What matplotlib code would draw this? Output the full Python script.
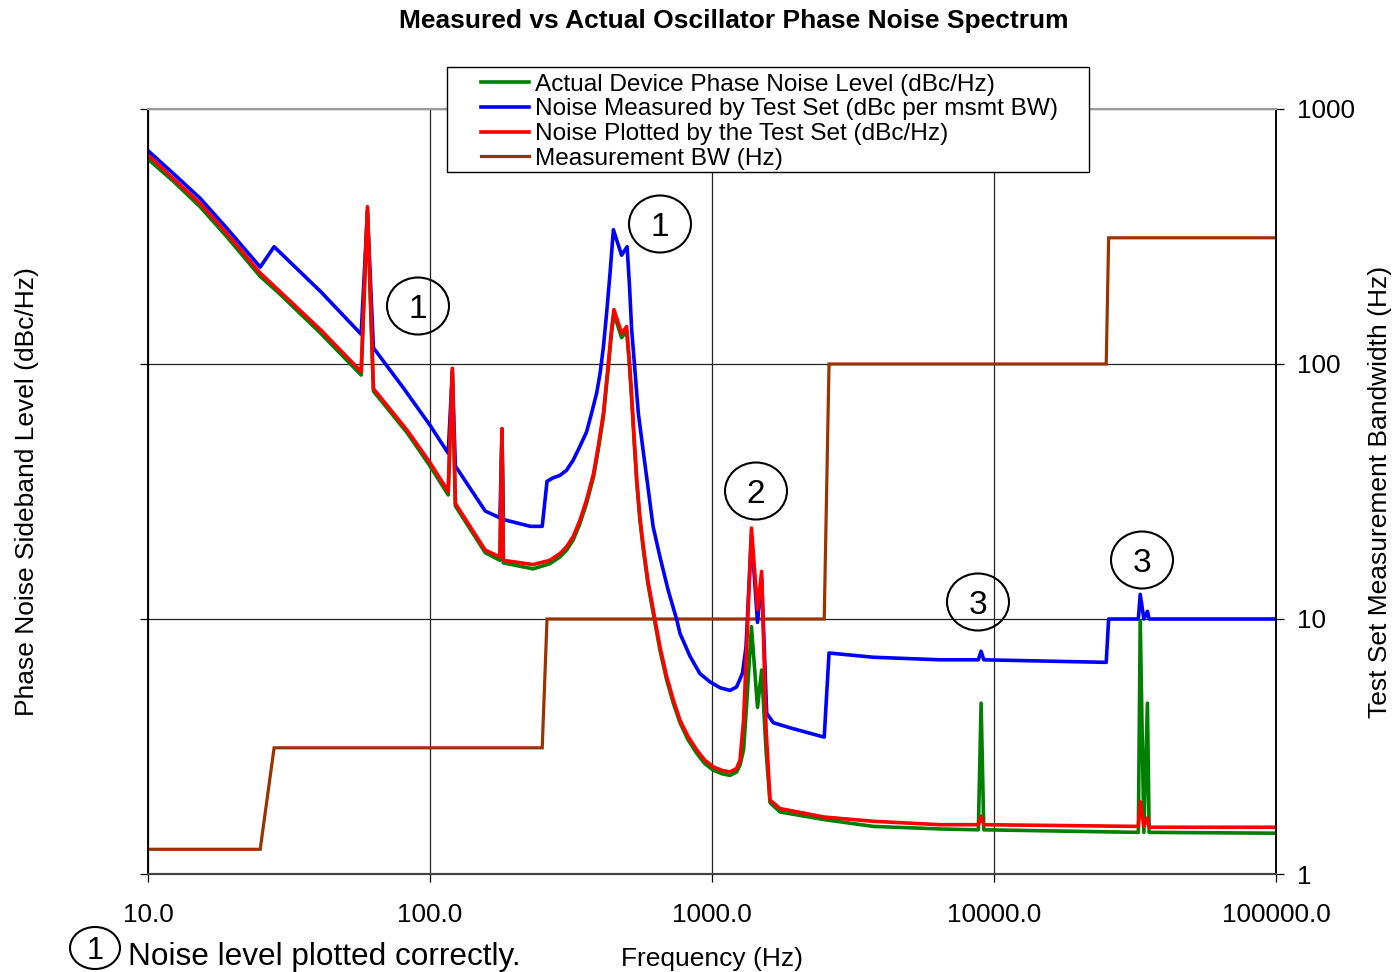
import matplotlib
matplotlib.use("Agg")
import matplotlib.pyplot as plt
from matplotlib.patches import Ellipse, Rectangle
from matplotlib.ticker import FixedLocator, FixedFormatter, NullLocator

plt.rcParams['font.family'] = ['Liberation Sans', 'DejaVu Sans']

# ---------------- data ----------------
# offset frequency (Hz) shared by the actual and plotted phase-noise traces
freq_pn = [10, 12.3, 15.3, 19, 25, 29, 41, 57, 60, 63,
           83, 100, 116, 120, 123, 157, 177, 180, 182, 232,
           266, 289, 305, 322, 340, 359, 380, 395, 412, 429,
           440, 449, 478, 498, 510, 519, 530, 541, 555, 571,
           592, 628, 654, 691, 729, 770, 822, 883, 942, 1011,
           1084, 1158, 1222, 1257, 1294, 1327, 1380, 1450, 1500, 1554,
           1606, 1742, 2500, 3733, 6435, 8800, 9000, 9200, 32500, 33000,
           34000, 35000, 35500, 100000]
# Noise Plotted by the Test Set (dBc/Hz)
plotted_dbc = [-45.4, -48.2, -51.1, -54.6, -59.3, -61.3, -66.0, -70.9, -51.5, -72.9,
               -77.8, -81.6, -85.0, -70.5, -86.4, -91.9, -92.7, -77.6, -93.1, -93.6,
               -93.1, -92.3, -91.5, -90.3, -88.4, -86.0, -82.9, -79.7, -75.8, -69.9,
               -66.0, -63.6, -66.4, -65.6, -69.9, -73.8, -78.9, -83.6, -88.0, -91.5,
               -95.4, -100.1, -103.3, -106.8, -109.5, -111.9, -113.8, -115.4, -116.6, -117.4,
               -117.8, -118.0, -117.6, -116.6, -111.9, -103.3, -89.3, -98.9, -94.4, -112.7,
               -121.3, -122.3, -123.3, -123.8, -124.2, -124.2, -123.2, -124.2, -124.4, -121.5,
               -124.4, -123.4, -124.5, -124.5]
# Actual Device Phase Noise Level (dBc/Hz)
actual_dbc = [-45.9, -48.5, -51.5, -55.0, -59.7, -61.6, -66.4, -71.3, -51.9, -73.2,
              -78.1, -82.0, -85.4, -70.8, -86.7, -92.2, -93.1, -77.9, -93.4, -94.1,
              -93.5, -92.7, -91.9, -90.7, -88.8, -86.4, -83.3, -80.1, -76.2, -70.4,
              -66.5, -64.1, -66.9, -66.1, -70.3, -74.2, -79.3, -84.0, -88.4, -91.9,
              -95.8, -100.5, -103.7, -107.2, -109.9, -112.2, -114.2, -115.8, -117.0, -117.8,
              -118.2, -118.4, -118.0, -117.2, -115.4, -110.1, -100.9, -110.4, -106.0, -115.4,
              -121.6, -122.7, -123.6, -124.4, -124.7, -124.8, -109.9, -124.8, -125.1, -100.2,
              -125.1, -109.9, -125.1, -125.2]

# Noise Measured by Test Set (dBc per msmt BW)
freq_measured = [10, 12.3, 15.3, 19, 25, 28, 41, 57, 60, 63,
                 80, 100, 116, 120, 123, 157, 177, 180, 182, 227,
                 250, 260, 273, 289, 305, 322, 340, 359, 374, 390,
                 401, 412, 423, 435, 447, 478, 500, 510, 519, 534,
                 548, 571, 587, 618, 654, 699, 750, 770, 836, 905,
                 984, 1070, 1158, 1222, 1282, 1320, 1380, 1450, 1500, 1563,
                 1650, 1891, 2500, 2600, 3733, 6435, 8800, 9000, 9200, 25000,
                 25500, 32500, 33000, 34000, 35000, 35500, 100000]
measured_dbc = [-44.9, -47.6, -50.5, -54.0, -58.6, -56.2, -61.5, -66.5, -52.1, -68.1,
                -72.7, -77.2, -80.5, -70.9, -82.0, -87.3, -88.1, -78.0, -88.3, -89.1,
                -89.1, -83.8, -83.4, -83.1, -82.5, -81.3, -79.7, -78.0, -75.8, -73.4,
                -71.1, -68.0, -64.0, -59.3, -54.2, -57.2, -56.2, -60.9, -66.0, -71.1,
                -75.8, -80.4, -83.4, -89.1, -92.7, -96.6, -100.1, -101.7, -104.4, -106.4,
                -107.4, -108.1, -108.4, -108.0, -106.4, -103.3, -90.1, -100.4, -95.2, -111.1,
                -112.2, -112.8, -113.9, -104.0, -104.5, -104.8, -104.8, -103.8, -104.8, -105.1,
                -100.0, -100.0, -97.1, -100.0, -99.1, -100.0, -100.0]

# Measurement BW (Hz)
bw_freq = [10, 25, 28, 250, 260, 2500, 2600, 25000, 25500, 100000]
bw_hz = [1.25, 1.25, 3.125, 3.125, 10, 10, 100, 100, 312.5, 312.5]

x_ticks = [10, 100, 1000, 10000, 100000]
x_tick_labels = ["10.0", "100.0", "1000.0", "10000.0", "100000.0"]
bw_ticks = [1, 10, 100, 1000]
bw_tick_labels = ["1", "10", "100", "1000"]
pn_ticks = [-130, -100, -70, -40]

legend_labels = ["Actual Device Phase Noise Level (dBc/Hz)",
                 "Noise Measured by Test Set (dBc per msmt BW)",
                 "Noise Plotted by the Test Set (dBc/Hz)",
                 "Measurement BW (Hz)"]
circle_labels = ["1", "1", "2", "3", "3"]

# ---------------- layout ----------------
W, H = 1399, 972
L, R, T, B = 148, 1276, 109, 874


def fx(x):
    return x / W


def fy(y):
    return 1 - y / H


circle_pos = [(418, 306), (660, 224), (756, 491), (978, 602), (1142, 560)]

fig = plt.figure(figsize=(W / 100, H / 100), dpi=100)
ax = fig.add_axes([fx(L), fy(B), (R - L) / W, (B - T) / H])
ax2 = ax.twinx()

# BW axis (right)
ax.set_xscale('log')
ax.set_yscale('log')
ax.set_xlim(10, 100000)
ax.set_ylim(1, 1000)
ax.yaxis.tick_right()
ax.yaxis.set_label_position('right')
ln_bw, = ax.plot(bw_freq, bw_hz, color='#993300', lw=2.3, zorder=3,
                 solid_joinstyle='miter')

ax.xaxis.set_major_locator(FixedLocator(x_ticks))
ax.xaxis.set_major_formatter(FixedFormatter(x_tick_labels))
ax.xaxis.set_minor_locator(NullLocator())
ax.yaxis.set_major_locator(FixedLocator(bw_ticks))
ax.yaxis.set_major_formatter(FixedFormatter(bw_tick_labels))
ax.yaxis.set_minor_locator(NullLocator())
ax.grid(True, which='major', color='#222222', lw=0.9)
ax.tick_params(axis='x', direction='out', length=5.8, width=0.9, labelsize=18.8,
               pad=14.9, colors='black')
ax.tick_params(axis='y', direction='out', length=5.8, width=0.9, labelsize=18.8,
               pad=9.4, right=True, left=False, labelright=True, labelleft=False)

# phase-noise axis (left, no labels)
ax2.yaxis.tick_left()
ax2.yaxis.set_label_position('left')
ax2.set_ylim(-130, -40)
ax2.set_yticks(pn_ticks)
ax2.set_yticklabels([])
ax2.tick_params(axis='y', direction='out', length=5.8, width=0.9, left=True,
                right=False, labelleft=False)

ln_meas, = ax2.plot(freq_measured, measured_dbc, color='#0000FF', lw=2.6, zorder=2)
ln_act, = ax2.plot(freq_pn, actual_dbc, color='#008000', lw=2.6, zorder=2.1)
ln_plot, = ax2.plot(freq_pn, plotted_dbc, color='#FF0000', lw=2.6, zorder=2.2)

for a in (ax, ax2):
    for name, s in a.spines.items():
        s.set_color('black')
        s.set_linewidth(1.1)
    a.spines['top'].set_color('#9a9a9a')
    a.spines['top'].set_linewidth(1.5)
    a.spines['bottom'].set_color('#444444')
    a.spines['bottom'].set_linewidth(1.5)

# labels
ax.set_xlabel("Frequency (Hz)", fontsize=19)
ax.xaxis.set_label_coords(0.5, -(959 - B) / (B - T))
ax.xaxis.label.set_va('center')
ax.set_ylabel("Test Set Measurement Bandwidth (Hz)", fontsize=19, rotation=90)
ax.yaxis.set_label_coords((1380 - L) / (R - L), 0.5)
ax.yaxis.label.set_va('center')
ax2.set_ylabel("Phase Noise Sideband Level (dBc/Hz)", fontsize=19)
ax2.yaxis.set_label_coords((27 - L) / (R - L), 0.5)
ax2.yaxis.label.set_va('center')

ax.set_title("Measured vs Actual Oscillator Phase Noise Spectrum", fontsize=19,
             fontweight='bold', x=(734 - L) / (R - L), y=1 + (T - 21) / (B - T),
             va='center', pad=0)

# legend with a square frame
frame = Rectangle((fx(447), fy(172)), (1089 - 447) / W, (172 - 67) / H,
                  transform=fig.transFigure, facecolor='white', edgecolor='black',
                  lw=1.0, zorder=4, clip_on=False)
ax2.add_artist(frame)
leg = ax2.legend([ln_act, ln_meas, ln_plot, ln_bw], legend_labels,
                 loc='upper left', bbox_to_anchor=(fx(481), fy(73.5)),
                 bbox_transform=fig.transFigure, frameon=False, borderpad=0,
                 borderaxespad=0, fontsize=17.6, handlelength=1.97,
                 handletextpad=0.25, labelspacing=0.11)
leg.set_zorder(5)

# circled callouts
for lab, (cx, cy) in zip(circle_labels, circle_pos):
    fig.add_artist(Ellipse((fx(cx), fy(cy)), 62 / W, 57 / H,
                           transform=fig.transFigure, facecolor='none',
                           edgecolor='black', lw=1.5, zorder=3))
    fig.text(fx(cx), fy(cy + 12), lab, fontsize=24, ha='center', va='baseline')

# bottom note
fig.add_artist(Ellipse((fx(95), fy(948)), 50 / W, 42 / H, transform=fig.transFigure,
                       facecolor='none', edgecolor='black', lw=1.5, zorder=3))
fig.text(fx(95), fy(959), "1", fontsize=22, ha='center', va='baseline')
fig.text(fx(128), fy(965), "Noise level plotted correctly.", fontsize=22.7,
         ha='left', va='baseline')

fig.savefig("out.png", dpi=100)
